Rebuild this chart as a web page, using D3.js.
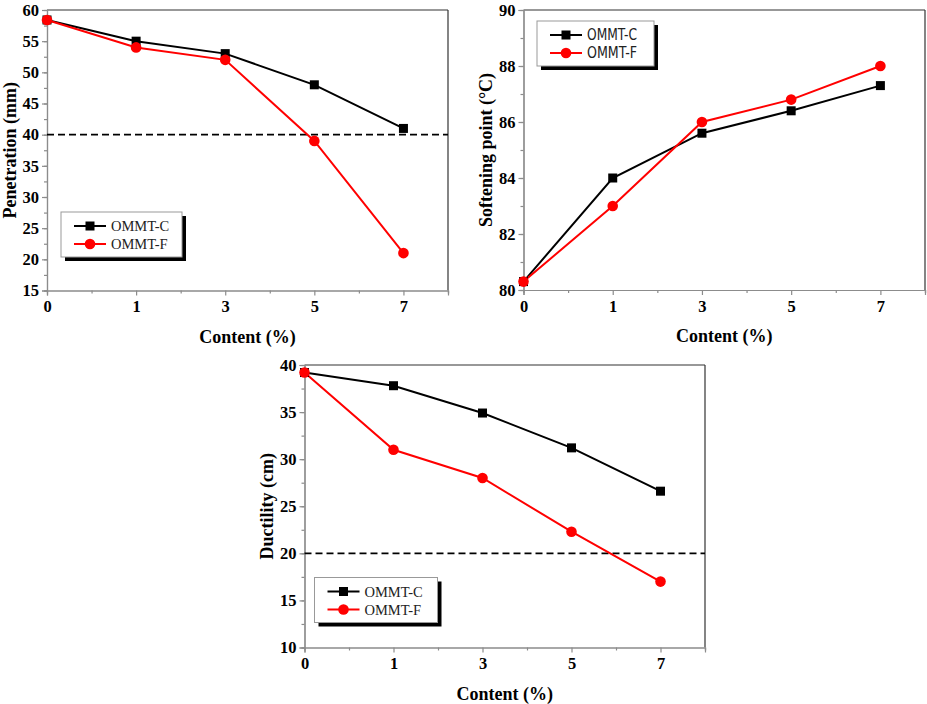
<!DOCTYPE html>
<html lang="en">
<head>
  <meta charset="utf-8">
  <title>OMMT content charts</title>
  <script src="https://d3js.org/d3.v7.min.js"></script>
  <style>
    body { margin: 0; background: #fff; }
    text { font-family: "Liberation Serif", "Times New Roman", serif; }
  </style>
</head>
<body>
<script>
// data
var contents = ["0", "1", "3", "5", "7"];
var seriesNames = ["OMMT-C", "OMMT-F"];

var penetrationC = [58.4, 55, 53, 48, 41];
var penetrationF = [58.4, 54, 52, 39, 21];

var softeningC = [80.3, 84, 85.6, 86.4, 87.3];
var softeningF = [80.3, 83, 86, 86.8, 88];

var ductilityC = [39.2, 37.8, 34.9, 31.2, 26.6];
var ductilityF = [39.2, 31, 28, 22.3, 17];

var penetrationTicks = [15, 20, 25, 30, 35, 40, 45, 50, 55, 60];
var softeningTicks = [80, 82, 84, 86, 88, 90];
var ductilityTicks = [10, 15, 20, 25, 30, 35, 40];

var W = 927, H = 704;
var svg = d3.select("body").append("svg")
  .attr("width", W)
  .attr("height", H);

var colors = ["#000000", "#ff0000"];
var axisGrey = "#8c8c8c";

// each panel: box on the page, y range, ticks, reference line, legend spot
var panels = [
  { left: 47, top: 10, right: 448, bottom: 290.5, yDomain: [15, 60], ticks: penetrationTicks, minorStep: 2.5,
    data: [penetrationC, penetrationF], yTitle: "Penetration (mm)", yTitleX: 10, refLine: 40,
    legend: { x: 61, y: 212, w: 121, h: 45 }, legendFont: "serif" },
  { left: 523.5, top: 10, right: 925, bottom: 290, yDomain: [80, 90], ticks: softeningTicks, minorStep: 1,
    data: [softeningC, softeningF], yTitle: "Softening point (\u00B0C)", yTitleX: 486, refLine: null,
    legend: { x: 537, y: 21, w: 117, h: 45 }, legendFont: "mono" },
  { left: 304.5, top: 365, right: 705, bottom: 647.5, yDomain: [10, 40], ticks: ductilityTicks, minorStep: 2.5,
    data: [ductilityC, ductilityF], yTitle: "Ductility (cm)", yTitleX: 267, refLine: 20,
    legend: { x: 314.5, y: 577.5, w: 123, h: 45 }, legendFont: "serif" }
];

panels.forEach(function(p) {
  var x = d3.scaleLinear().domain([0, 4.5]).range([p.left, p.right]);
  var y = d3.scaleLinear().domain(p.yDomain).range([p.bottom, p.top]);
  var g = svg.append("g");

  // frame: top and right dark, left and bottom grey
  g.append("line").attr("x1", p.left).attr("x2", p.right).attr("y1", p.top).attr("y2", p.top)
    .attr("stroke", "#333").attr("stroke-width", 1.2);
  g.append("line").attr("x1", p.right).attr("x2", p.right).attr("y1", p.top).attr("y2", p.bottom)
    .attr("stroke", "#333").attr("stroke-width", 1.2);

  // minor ticks first, then the major axes on top
  var minorY = d3.range(p.yDomain[0], p.yDomain[1] + 0.001, p.minorStep);
  var yMinor = g.append("g").attr("transform", "translate(" + p.left + ",0)")
    .call(d3.axisLeft(y).tickValues(minorY).tickSize(3).tickFormat(""));
  var xMinor = g.append("g").attr("transform", "translate(0," + p.bottom + ")")
    .call(d3.axisBottom(x).tickValues([0.5, 1.5, 2.5, 3.5, 4.5]).tickSize(3).tickFormat(""));

  var yAxis = g.append("g").attr("transform", "translate(" + p.left + ",0)")
    .call(d3.axisLeft(y).tickValues(p.ticks).tickSize(5).tickPadding(3).tickFormat(d3.format("d")));
  var xAxis = g.append("g").attr("transform", "translate(0," + p.bottom + ")")
    .call(d3.axisBottom(x).tickValues([0, 1, 2, 3, 4]).tickSize(5).tickPadding(5)
      .tickFormat(function(d) { return contents[d]; }));

  [yMinor, xMinor, yAxis, xAxis].forEach(function(a) {
    a.selectAll("path").attr("stroke", axisGrey).attr("stroke-width", 1.2);
    a.selectAll("line").attr("stroke", axisGrey).attr("stroke-width", 1.2);
    a.selectAll("text")
      .style("font-family", "'Liberation Serif', serif")
      .style("font-weight", "bold")
      .style("font-size", "16.5px")
      .attr("fill", "#000");
  });

  // axis titles
  g.append("text")
    .attr("x", (p.left + p.right) / 2)
    .attr("y", p.bottom + 52)
    .attr("text-anchor", "middle")
    .style("font-weight", "bold")
    .style("font-size", "18px")
    .text("Content (%)");
  g.append("text")
    .attr("transform", "translate(" + p.yTitleX + "," + ((p.top + p.bottom) / 2) + ") rotate(-90)")
    .attr("text-anchor", "middle")
    .attr("dy", "0.35em")
    .style("font-weight", "bold")
    .style("font-size", "18px")
    .text(p.yTitle);

  // dashed limit line
  if (p.refLine !== null) {
    g.append("line")
      .attr("x1", p.left).attr("x2", p.right)
      .attr("y1", y(p.refLine)).attr("y2", y(p.refLine))
      .attr("stroke", "#000").attr("stroke-width", 1.6)
      .attr("stroke-dasharray", "7,4");
  }

  // lines and markers
  var line = d3.line()
    .x(function(d, i) { return x(i); })
    .y(function(d) { return y(d); });

  p.data.forEach(function(vals, s) {
    g.append("path")
      .datum(vals)
      .attr("d", line)
      .attr("fill", "none")
      .attr("stroke", colors[s])
      .attr("stroke-width", 2);
  });
  p.data.forEach(function(vals, s) {
    var pts = g.append("g").selectAll("g").data(vals).enter();
    if (s === 0) {
      pts.append("rect")
        .attr("x", function(d, i) { return x(i) - 4.5; })
        .attr("y", function(d) { return y(d) - 4.5; })
        .attr("width", 9).attr("height", 9)
        .attr("fill", colors[s]);
    } else {
      pts.append("circle")
        .attr("cx", function(d, i) { return x(i); })
        .attr("cy", function(d) { return y(d); })
        .attr("r", 5.3)
        .attr("fill", colors[s]);
    }
  });

  // legend with drop shadow
  var L = p.legend;
  var lg = g.append("g");
  lg.append("rect")
    .attr("x", L.x + 4).attr("y", L.y + 4)
    .attr("width", L.w).attr("height", L.h)
    .attr("fill", "#000");
  lg.append("rect")
    .attr("x", L.x).attr("y", L.y)
    .attr("width", L.w).attr("height", L.h)
    .attr("fill", "#fff")
    .attr("stroke", "#999").attr("stroke-width", 1);

  seriesNames.forEach(function(name, s) {
    var ry = L.y + 14 + s * 18;
    lg.append("line")
      .attr("x1", L.x + 13).attr("x2", L.x + 45)
      .attr("y1", ry).attr("y2", ry)
      .attr("stroke", colors[s]).attr("stroke-width", 2);
    if (s === 0) {
      lg.append("rect")
        .attr("x", L.x + 29 - 4.5).attr("y", ry - 4.5)
        .attr("width", 9).attr("height", 9)
        .attr("fill", colors[s]);
    } else {
      lg.append("circle")
        .attr("cx", L.x + 29).attr("cy", ry)
        .attr("r", 5.3).attr("fill", colors[s]);
    }
    var t = lg.append("text")
      .attr("x", L.x + 50)
      .attr("y", ry)
      .attr("dy", "0.36em")
      .attr("fill", "#222")
      .text(name);
    if (p.legendFont === "mono") {
      t.style("font-family", "'Liberation Sans Narrow', 'DejaVu Sans Condensed', sans-serif")
        .style("font-size", "15px")
        .attr("textLength", 50)
        .attr("lengthAdjust", "spacingAndGlyphs");
    } else {
      t.style("font-size", "14.5px");
    }
  });
});
</script>
</body>
</html>
